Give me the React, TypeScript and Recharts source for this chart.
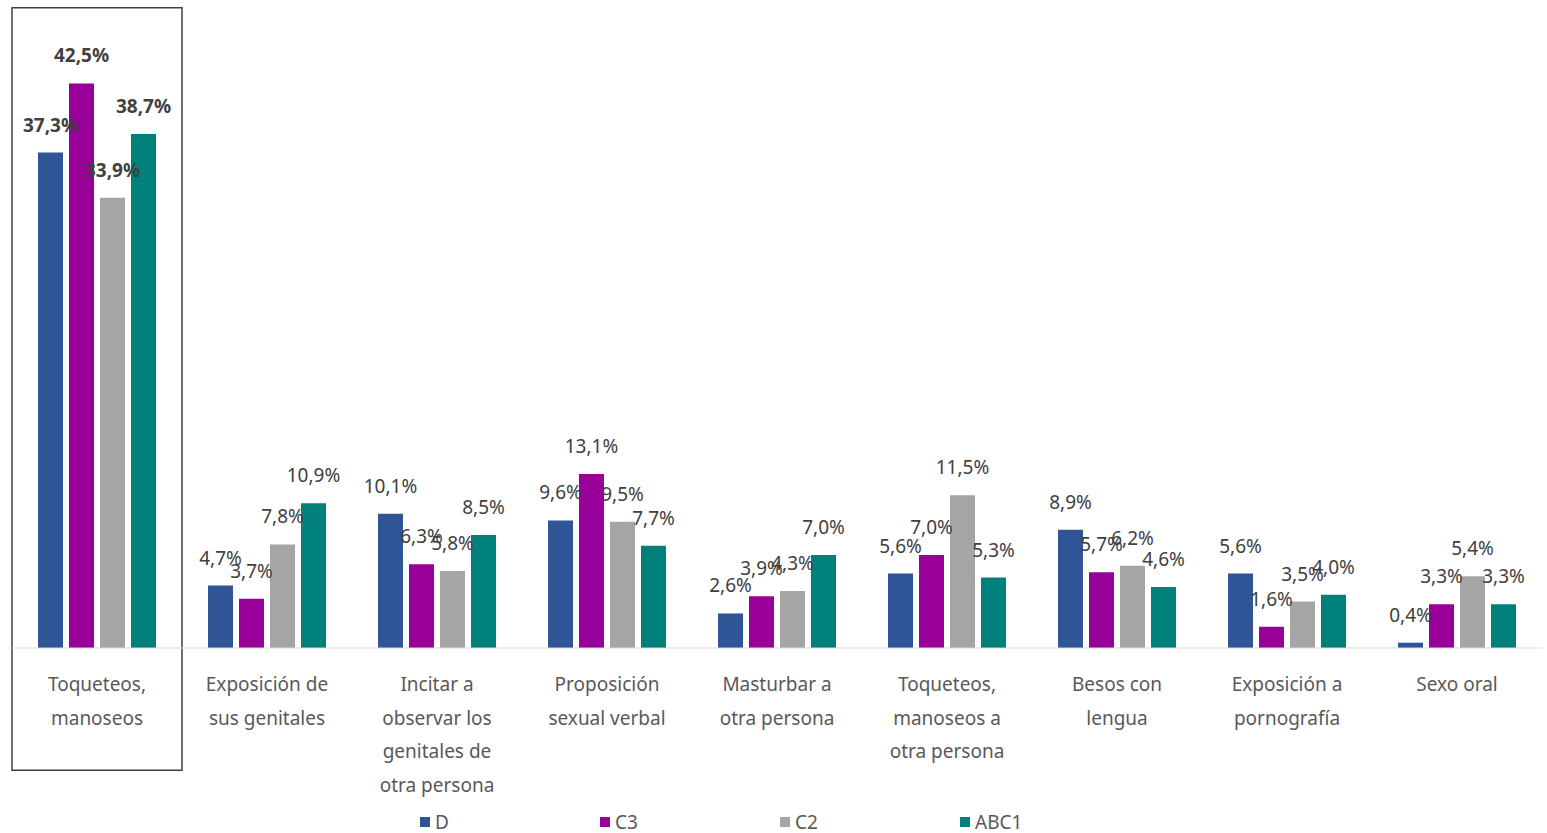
import React from 'react';
import { BarChart, Bar, XAxis, YAxis, LabelList, Legend, ReferenceArea } from 'recharts';

const categories = [
  'Toqueteos,\nmanoseos',
  'Exposición de\nsus genitales',
  'Incitar a\nobservar los\ngenitales de\notra persona',
  'Proposición\nsexual verbal',
  'Masturbar a\notra persona',
  'Toqueteos,\nmanoseos a\notra persona',
  'Besos con\nlengua',
  'Exposición a\npornografía',
  'Sexo oral',
];

const seriesD = [37.3, 4.7, 10.1, 9.6, 2.6, 5.6, 8.9, 5.6, 0.4];
const seriesC3 = [42.5, 3.7, 6.3, 13.1, 3.9, 7.0, 5.7, 1.6, 3.3];
const seriesC2 = [33.9, 7.8, 5.8, 9.5, 4.3, 11.5, 6.2, 3.5, 5.4];
const seriesABC1 = [38.7, 10.9, 8.5, 7.7, 7.0, 5.3, 4.6, 4.0, 3.3];

const series = [
  { key: 'D', color: '#2F5597' },
  { key: 'C3', color: '#990099' },
  { key: 'C2', color: '#A5A5A5' },
  { key: 'ABC1', color: '#00807A' },
];

const data = categories.map((name, i) => ({
  name,
  D: seriesD[i],
  C3: seriesC3[i],
  C2: seriesC2[i],
  ABC1: seriesABC1[i],
}));

const FONT = '"Noto Sans", sans-serif';

const fmt = (v: number) => v.toFixed(1).replace('.', ',') + '%';

const ValueLabel = (props: any) => {
  const { x, y, width, value, index } = props;
  return (
    <text
      x={x + width / 2}
      y={y - 28}
      textAnchor="middle"
      dominantBaseline="central"
      fontFamily={FONT}
      fontSize={19}
      fontWeight={index === 0 ? 700 : 400}
      fill="#404040"
    >
      {fmt(value)}
    </text>
  );
};

const CategoryTick = (props: any) => {
  const { x, y, payload } = props;
  const lines = String(payload.value).split('\n');
  return (
    <g>
      {lines.map((line, i) => (
        <text
          key={i}
          x={x}
          y={y + 28 + i * 33.5}
          textAnchor="middle"
          dominantBaseline="central"
          fontFamily={FONT}
          fontSize={19}
          fill="#595959"
        >
          {line}
        </text>
      ))}
    </g>
  );
};

const LegendContent = () => (
  <div
    style={{
      display: 'flex',
      height: 30,
      boxSizing: 'border-box',
      paddingTop: 8,
      paddingLeft: 408,
      alignItems: 'center',
      fontFamily: FONT,
    }}
  >
    {series.map((s) => (
      <div key={s.key} style={{ width: 180, display: 'flex', alignItems: 'center' }}>
        <span style={{ width: 10, height: 10, background: s.color, marginRight: 5, display: 'inline-block' }} />
        <span style={{ fontSize: 19, color: '#595959' }}>{s.key}</span>
      </div>
    ))}
  </div>
);

export default function App() {
  return (
    <div style={{ position: 'absolute', left: 0, top: 0, background: '#fff' }}>
      <BarChart
        width={1547}
        height={833}
        data={data}
        margin={{ top: 37, right: 5, left: 12, bottom: 0 }}
        barSize={25}
        barGap={6}
      >
        <XAxis
          dataKey="name"
          axisLine={{ stroke: '#D9D9D9' }}
          tickLine={false}
          interval={0}
          height={155}
          tick={<CategoryTick />}
        />
        <YAxis hide domain={[0, 46]} />
        <ReferenceArea
          x1={categories[0]}
          x2={categories[0]}
          y1={-9.2}
          y2={48.2}
          ifOverflow="visible"
          fill="none"
          fillOpacity={0}
          stroke="#404040"
          strokeWidth={1.5}
        />
        {series.map((s) => (
          <Bar key={s.key} dataKey={s.key} fill={s.color} isAnimationActive={false}>
            <LabelList dataKey={s.key} content={<ValueLabel />} />
          </Bar>
        ))}
        <Legend verticalAlign="bottom" content={<LegendContent />} />
      </BarChart>
    </div>
  );
}
